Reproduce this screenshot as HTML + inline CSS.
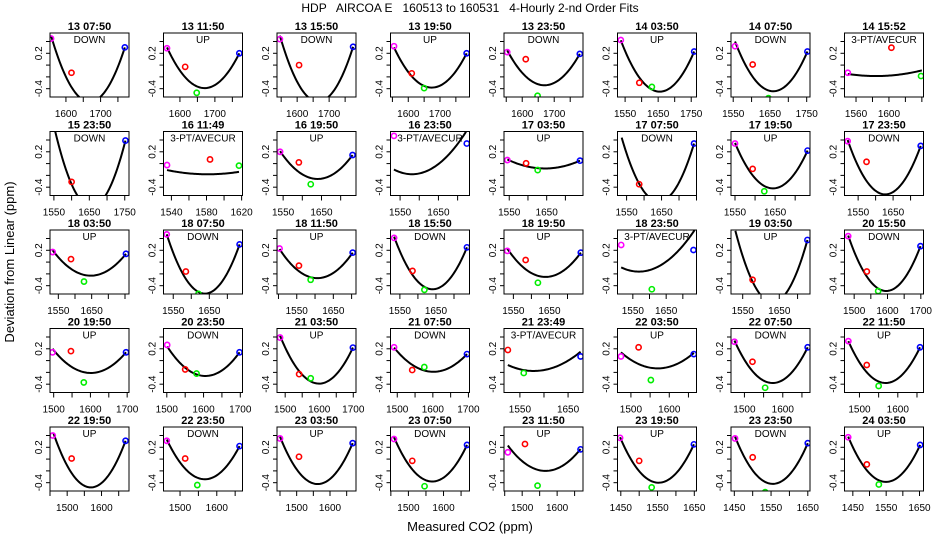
<!DOCTYPE html>
<html><head><meta charset="utf-8">
<style>
html,body{margin:0;padding:0;background:#fff;}
svg{display:block;font-family:"Liberation Sans",Arial,sans-serif;}
</style></head>
<body>
<svg id="chart" width="936" height="540" viewBox="0 0 936 540" xmlns="http://www.w3.org/2000/svg">
<rect width="936" height="540" fill="#fff"/>
<text x="470" y="12" font-size="12" text-anchor="middle" xml:space="preserve">HDP   AIRCOA E   160513 to 160531   4-Hourly 2-nd Order Fits</text>
<text x="0" y="0" font-size="13" text-anchor="middle" transform="translate(14,262) rotate(-90)">Deviation from Linear (ppm)</text>
<text x="470" y="531" font-size="13" text-anchor="middle">Measured CO2 (ppm)</text>
<g id="panels"></g>
</svg>
<script>
const titles=["13 07:50","13 11:50","13 15:50","13 19:50","13 23:50","14 03:50","14 07:50","14 15:52",
"15 23:50","16 11:49","16 19:50","16 23:50","17 03:50","17 07:50","17 19:50","17 23:50",
"18 03:50","18 07:50","18 11:50","18 15:50","18 19:50","18 23:50","19 03:50","20 15:50",
"20 19:50","20 23:50","21 03:50","21 07:50","21 23:49","22 03:50","22 07:50","22 11:50",
"22 19:50","22 23:50","23 03:50","23 07:50","23 11:50","23 19:50","23 23:50","24 03:50"];
const labels=["DOWN","UP","DOWN","UP","DOWN","UP","DOWN","3-PT/AVECUR",
"DOWN","3-PT/AVECUR","UP","3-PT/AVECUR","UP","DOWN","UP","DOWN",
"UP","DOWN","UP","DOWN","UP","3-PT/AVECUR","UP","DOWN",
"UP","DOWN","UP","DOWN","3-PT/AVECUR","UP","DOWN","UP",
"UP","DOWN","UP","DOWN","UP","UP","DOWN","UP"];
const xlims=[[1554,1782],[1553,1779],[1537,1784],[1544,1793],[1543,1790],[1527,1766],[1544,1759],[1546,1642],
[1539,1762],[1531,1621],[1534,1740],[1525,1731],[1536,1747],[1524,1750],[1540,1737],[1511,1737],
[1525,1762],[1523,1742],[1496,1712],[1524,1743],[1524,1743],[1504,1741],[1518,1734],[1471,1708],
[1490,1705],[1491,1706],[1476,1708],[1481,1703],[1517,1681],[1465,1671],[1465,1671],[1461,1667],
[1450,1680],[1455,1670],[1441,1678],[1449,1674],[1448,1674],[1441,1656],[1441,1656],[1425,1662]];
const tickSteps=[50,50,50,50,50,50,50,20,50,20,50,50,50,50,50,50,50,50,50,50,50,50,50,50,
50,50,50,50,50,50,50,50,50,50,50,50,50,50,50,50];
const tickLabels=[[1600,1700],[1600,1700],[1600,1700],[1600,1700],[1600,1700],[1550,1650,1750],[1550,1650,1750],[1560,1600],
[1550,1650,1750],[1540,1580,1620],[1550,1650],[1550,1650],[1550,1650],[1550,1650],[1550,1650],[1550,1650],
[1550,1650],[1550,1650],[1550,1650],[1550,1650],[1550,1650],[1550,1650],[1550,1650],[1500,1600,1700],
[1500,1600,1700],[1500,1600,1700],[1500,1600,1700],[1500,1600,1700],[1550,1650],[1500,1600],[1500,1600],[1500,1600],
[1500,1600],[1500,1600],[1500,1600],[1500,1600],[1500,1600],[1450,1550,1650],[1450,1550,1650],[1450,1550,1650]];
const magentaPts=[[1557,0.45],[1563,0.285],[1546,0.44],[1555,0.32],[1553,0.22],[1537,0.425],[1555,0.32],[1550,-0.13],
null,[1535,-0.025],[1542,0.2],[1534,0.47],[1545,0.06],null,[1550,0.34],[1520,0.38],
[1533,0.17],[1532,0.47],[1503,0.23],[1534,0.41],[1533,0.19],[1515,0.29],null,[1482,0.44],
[1497,0.14],[1501,0.265],[1485,0.39],[1491,0.225],null,[1474,0.07],[1474,0.32],[1471,0.33],
[1458,0.40],[1464,0.31],[1450,0.35],[1459,0.34],[1459,0.115],[1448,0.36],[1452,0.35],[1436,0.37]];
const redPts=[[1616,-0.13],[1615,-0.03],[1606,0.0],[1611,-0.14],[1611,0.10],[1593,-0.30],[1603,0.01],[1603,0.295],
[1600,-0.31],[1584,0.07],[1591,0.02],null,[1595,0.005],[1586,-0.35],[1594,-0.09],[1574,0.03],
[1588,0.05],[1585,-0.16],[1556,-0.06],[1585,-0.15],[1584,0.035],null,[1577,-0.30],[1538,-0.16],
[1547,0.16],[1550,-0.15],[1541,-0.23],[1542,-0.16],[1525,0.18],[1520,0.225],[1521,-0.02],[1519,-0.075],
[1513,0.01],[1514,0.01],[1507,0.04],[1511,-0.03],[1508,0.256],[1500,-0.03],[1500,0.03],[1492,-0.09]];
const greenPts=[null,[1648,-0.47],null,[1650,-0.39],[1648,-0.52],[1631,-0.37],[1646,-0.56],[1639,-0.185],
null,[1617,-0.035],[1622,-0.35],null,[1626,-0.11],null,[1623,-0.47],null,
[1627,-0.33],[1620,-0.54],[1588,-0.30],[1618,-0.47],[1618,-0.35],[1607,-0.46],null,[1572,-0.49],
[1582,-0.37],[1581,-0.22],[1575,-0.30],[1576,-0.11],[1558,-0.21],[1552,-0.33],[1554,-0.46],[1550,-0.43],
null,[1547,-0.44],null,[1546,-0.46],[1544,-0.45],[1534,-0.48],[1534,-0.56],[1528,-0.43]];
const bluePts=[[1770,0.30],[1770,0.2],[1775,0.31],[1784,0.2],[1780,0.19],[1759,0.23],[1752,0.23],null,
[1752,0.39],null,[1731,0.145],[1724,0.34],[1739,0.05],[1743,0.34],[1731,0.22],[1729,0.30],
[1753,0.14],[1734,0.30],[1703,0.16],[1736,0.25],[1737,0.16],[1732,0.205],[1727,0.375],[1699,0.27],
[1697,0.14],[1698,0.14],[1699,0.22],[1696,0.11],[1676,0.07],[1664,0.11],[1665,0.225],[1658,0.225],
[1670,0.31],[1662,0.22],[1668,0.27],[1667,0.24],[1667,0.165],[1649,0.25],[1650,0.27],[1652,0.24]];
const fitLeft=[[1557,0.5],[1563,0.3],[1546,0.5],[1555,0.3],[1553,0.25],[1537,0.42],[1555,0.40],[1550,-0.15],
[1550,0.64],[1535,-0.11],[1542,0.21],[1534,-0.10],[1545,0.07],[1536,0.44],[1550,0.35],[1520,0.40],
[1533,0.20],[1532,0.47],[1503,0.22],[1534,0.43],[1533,0.23],[1515,-0.09],[1530,0.53],[1482,0.45],
[1497,0.20],[1501,0.24],[1485,0.42],[1491,0.22],[1525,-0.075],[1474,0.14],[1474,0.34],[1471,0.33],
[1460,0.44],[1464,0.33],[1450,0.38],[1459,0.37],[1459,0.23],[1448,0.37],[1452,0.38],[1436,0.38]];
const fitMid=[[1675,-0.62],[1672,-0.39],[1668,-0.62],[1669,-0.38],[1676,-0.34],[1656,-0.45],[1646,-0.43],[1590,-0.185],
[1656,-0.735],[1575,-0.18],[1637,-0.26],[1580,-0.18],[1659,-0.08],[1642,-0.645],[1646,-0.42],[1633,-0.52],
[1645,-0.23],[1645,-0.53],[1600,-0.27],[1638,-0.46],[1633,-0.25],[1575,-0.16],[1632,-0.684],[1596,-0.49],
[1617,-0.20],[1601,-0.26],[1602,-0.39],[1601,-0.19],[1592,-0.17],[1578,-0.13],[1575,-0.38],[1569,-0.38],
[1571,-0.48],[1573,-0.34],[1570,-0.42],[1568,-0.38],[1570,-0.20],[1555,-0.40],[1555,-0.42],[1560,-0.38]];
const fitRight=[[1770,0.30],[1770,0.2],[1775,0.31],[1784,0.2],[1780,0.19],[1759,0.23],[1752,0.23],[1640,-0.09],
[1752,0.39],[1617,-0.14],[1731,0.145],[1722,0.54],[1739,0.05],[1743,0.34],[1731,0.22],[1729,0.30],
[1753,0.14],[1734,0.30],[1703,0.16],[1736,0.25],[1737,0.16],[1735,0.54],[1727,0.375],[1699,0.27],
[1697,0.14],[1698,0.14],[1699,0.22],[1696,0.11],[1676,0.15],[1664,0.13],[1665,0.225],[1658,0.225],
[1670,0.31],[1662,0.22],[1668,0.27],[1667,0.24],[1667,0.17],[1649,0.25],[1650,0.27],[1652,0.24]];
const yTicks=[0.4,0.2,0,-0.2,-0.4];
const yTickLabels=["0.2","-0.4"];
const yTickLabelVals=[0.2,-0.4];

const NS="http://www.w3.org/2000/svg";
const colLeft=50, colPitch=113.5, rowTop=33, rowPitch=98.5, boxW=79, boxH=64;
const yTop=0.544, yBot=-0.541;
function mk(tag,attrs,parent){const e=document.createElementNS(NS,tag);for(const k in attrs)e.setAttribute(k,attrs[k]);parent.appendChild(e);return e;}
const root=document.getElementById('panels');
const defs=mk('defs',{},root);

titles.forEach((t,i)=>{
  const col=i%8,row=Math.floor(i/8);
  const bx=colLeft+col*colPitch, by=rowTop+row*rowPitch;
  const [x0,x1]=xlims[i];
  const sx=v=>bx+(v-x0)/(x1-x0)*boxW;
  const sy=v=>by+(yTop-v)/(yTop-yBot)*boxH;
  const g=mk('g',{},root);
  
  
  const cp=mk('clipPath',{id:'cp'+i},defs);
  mk('rect',{x:bx,y:by,width:boxW,height:boxH},cp);
  const tt=mk('text',{x:bx+boxW/2,y:by-3,'font-size':11,'font-weight':'bold','text-anchor':'middle'},g);
  tt.textContent=t;
  
  
  const lb=mk('text',{x:bx+boxW/2,y:by+10,'font-size':10,'text-anchor':'middle'},g);
  lb.textContent=labels[i];
  
  
  // y ticks
  yTicks.forEach(v=>{const l=mk('line',{x1:bx-4,x2:bx,y1:sy(v),y2:sy(v),stroke:'#000','stroke-width':1},g);
    
    });
  yTickLabelVals.forEach((v,k)=>{const tx=mk('text',{x:0,y:0,'font-size':10,'text-anchor':'middle',transform:`translate(${bx-8},${sy(v)}) rotate(-90)`},g);
    tx.textContent=yTickLabels[k];
    
    });
  // x ticks
  const st=tickSteps[i];
  for(let v=Math.ceil(x0/st)*st;v<=x1;v+=st){const l=mk('line',{x1:sx(v),x2:sx(v),y1:by+boxH,y2:by+boxH+5,stroke:'#000','stroke-width':1},g);
    
    }
  tickLabels[i].forEach(v=>{const tx=mk('text',{x:sx(v),y:by+boxH+20,'font-size':10,'text-anchor':'middle'},g);
    tx.textContent=v;
    
    });
  const inner=mk('g',{'clip-path':`url(#cp${i})`},g);
  // fit curve through three anchors (Lagrange)
  const A=fitLeft[i],B=fitMid[i],C=fitRight[i];
  const f=x=>A[1]*(x-B[0])*(x-C[0])/((A[0]-B[0])*(A[0]-C[0]))+B[1]*(x-A[0])*(x-C[0])/((B[0]-A[0])*(B[0]-C[0]))+C[1]*(x-A[0])*(x-B[0])/((C[0]-A[0])*(C[0]-B[0]));
  let d='';
  for(let k=0;k<=60;k++){const x=A[0]+(C[0]-A[0])*k/60;d+=(k?'L':'M')+sx(x).toFixed(2)+','+sy(f(x)).toFixed(2);}
  const p=mk('path',{d:d,fill:'none',stroke:'#000','stroke-width':2},inner);
  
  
  const pts=[[magentaPts[i],'#f0f','magenta-point'],[redPts[i],'#f00','red-point'],[greenPts[i],'#0e0','green-point'],[bluePts[i],'#00f','blue-point']];
  pts.forEach(([pt,c,n])=>{if(!pt)return;const ci=mk('circle',{cx:sx(pt[0]),cy:sy(pt[1]),r:2.6,fill:'none',stroke:c,'stroke-width':1.6},inner);
    
    });
  const box=mk('rect',{x:bx,y:by,width:boxW,height:boxH,fill:'none',stroke:'#000','stroke-width':1},g);
  
  
});
</script>
</body></html>
